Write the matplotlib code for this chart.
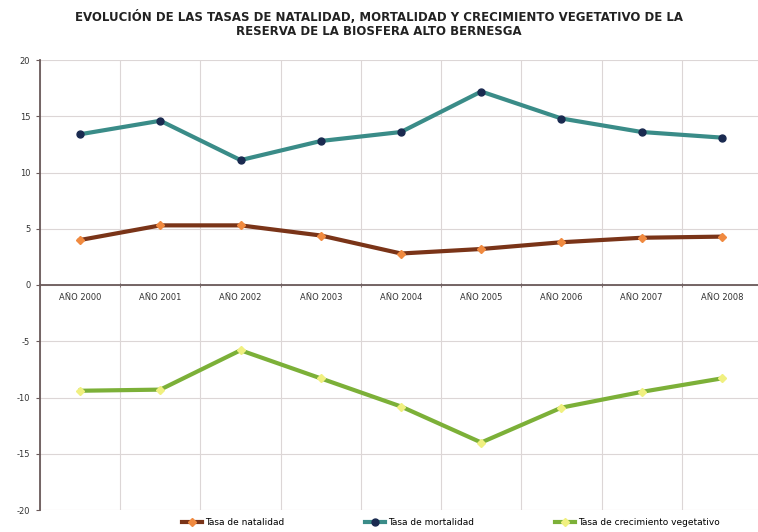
import numpy as np
import matplotlib
matplotlib.use("Agg")
import matplotlib.pyplot as plt

# values
years = ["AÑO 2000", "AÑO 2001", "AÑO 2002", "AÑO 2003", "AÑO 2004",
         "AÑO 2005", "AÑO 2006", "AÑO 2007", "AÑO 2008"]
natalidad = [4.0, 5.3, 5.3, 4.4, 2.8, 3.2, 3.8, 4.2, 4.3]
mortalidad = [13.4, 14.6, 11.1, 12.8, 13.6, 17.2, 14.8, 13.6, 13.1]
crecimiento = [-9.4, -9.3, -5.8, -8.3, -10.8, -14.0, -10.9, -9.5, -8.3]
yticks = [-20, -15, -10, -5, 0, 5, 10, 15, 20]

title = ("EVOLUCIÓN DE LAS TASAS DE NATALIDAD, MORTALIDAD Y CRECIMIENTO VEGETATIVO DE LA\n"
         "RESERVA DE LA BIOSFERA ALTO BERNESGA")

fig = plt.figure(figsize=(7.58, 5.32), dpi=100)
ax = fig.add_axes([40 / 758, 22 / 532, 722 / 758, 450 / 532])

x = np.arange(len(years))
l1, = ax.plot(x, natalidad, color="#7a3418", lw=3, marker="D", ms=4,
              mfc="#f08a40", mec="#f08a40", label="Tasa de natalidad")
l2, = ax.plot(x, mortalidad, color="#3a8c88", lw=3, marker="o", ms=5,
              mfc="#1a2a50", mec="#1a2a50", label="Tasa de mortalidad")
l3, = ax.plot(x, crecimiento, color="#7cb038", lw=3, marker="D", ms=4,
              mfc="#f0f080", mec="#f0f080", label="Tasa de crecimiento vegetativo")

ax.set_xlim(-0.5, len(years) - 0.5)
ax.set_ylim(-20, 20)
ax.set_yticks(yticks)
ax.set_yticklabels([str(v) for v in yticks])

ax.set_xticks(x)
ax.set_xticklabels(years)
ax.set_xticks(np.arange(-0.5, len(years), 1), minor=True)
ax.tick_params(axis="x", which="major", length=0, pad=6, labelsize=6, labelcolor="#333333")
ax.tick_params(axis="x", which="minor", length=3, color="#6a5a5a", direction="inout")
ax.tick_params(axis="y", length=3, color="#6a5a5a", pad=4, labelsize=6, labelcolor="#333333")

ax.spines["bottom"].set_position(("data", 0))
ax.spines["bottom"].set_color("#6a5a5a")
ax.spines["bottom"].set_linewidth(1.3)
ax.spines["left"].set_color("#6a5a5a")
ax.spines["left"].set_linewidth(1.3)
ax.spines["top"].set_visible(False)
ax.spines["right"].set_visible(False)

ax.grid(True, axis="y", color="#dcd6d6", lw=0.8)
ax.grid(True, axis="x", which="minor", color="#dcd6d6", lw=0.8)
ax.grid(False, axis="x", which="major")
ax.set_axisbelow(True)

fig.text(0.5, 0.955, title, ha="center", va="center", fontsize=8.5,
         fontweight="bold", color="#222222", linespacing=1.05)

fig.legend(handles=[l1, l2, l3], loc="center", bbox_to_anchor=(0.595, 0.018),
           ncol=3, frameon=False, fontsize=6.5, handlelength=2.2,
           columnspacing=9, handletextpad=0.3)

fig.savefig("out.png", dpi=100)
